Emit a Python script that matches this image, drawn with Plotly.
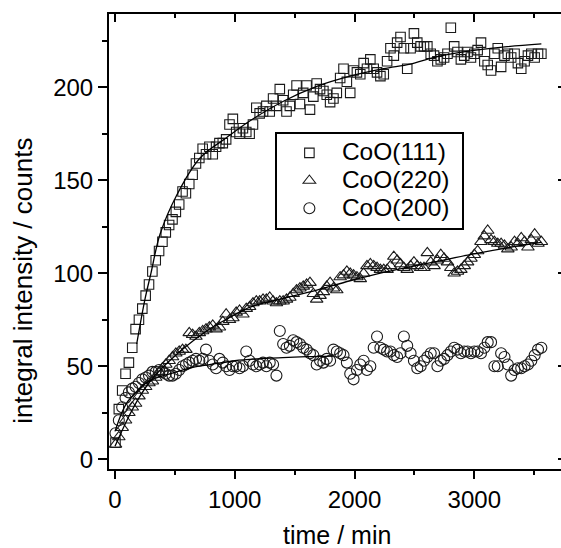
import plotly.graph_objects as go

# measurement times (min)
time_min = [
    4, 32, 60, 88, 116, 144, 172, 200, 228, 256,
    284, 312, 340, 368, 396, 424, 452, 480, 508, 536,
    564, 592, 620, 648, 676, 704, 732, 760, 788, 816,
    844, 872, 900, 928, 956, 984, 1012, 1040, 1068, 1096,
    1124, 1152, 1180, 1208, 1236, 1264, 1292, 1320, 1348, 1376,
    1404, 1432, 1460, 1488, 1516, 1544, 1572, 1600, 1628, 1656,
    1684, 1712, 1740, 1768, 1796, 1824, 1852, 1880, 1908, 1936,
    1964, 1992, 2020, 2048, 2076, 2104, 2132, 2160, 2188, 2216,
    2244, 2272, 2300, 2328, 2356, 2384, 2412, 2440, 2468, 2496,
    2524, 2552, 2580, 2608, 2636, 2664, 2692, 2720, 2748, 2776,
    2804, 2832, 2860, 2888, 2916, 2944, 2972, 3000, 3028, 3056,
    3084, 3112, 3140, 3168, 3196, 3224, 3252, 3280, 3308, 3336,
    3364, 3392, 3420, 3448, 3476, 3504, 3532, 3560,
]

coo111 = [
    9, 27, 37, 46, 52, 60, 70, 75, 81, 88,
    94, 101, 107, 112, 117, 122, 126, 129, 133, 137,
    144, 143, 148, 153, 159, 162, 167, 164, 168, 164,
    168, 170, 170, 172, 180, 183, 176, 175, 178, 176,
    175, 180, 189, 186, 187, 190, 187, 194, 190, 199,
    193, 187, 190, 196, 201, 191, 197, 201, 188, 195,
    202, 199, 198, 196, 192, 194, 197, 205, 210, 203,
    197, 209, 208, 207, 213, 210, 215, 210, 208, 206,
    207, 214, 221, 217, 224, 227, 221, 210, 221, 229,
    224, 222, 222, 222, 218, 217, 214, 215, 216, 218,
    232, 222, 219, 215, 217, 219, 216, 218, 220, 224,
    214, 212, 209, 218, 221, 211, 217, 218, 216, 218,
    213, 210, 214, 217, 218, 216, 218, 218,
]

coo220 = [
    8, 12, 17, 21, 25, 28, 30, 34, 37, 39,
    41, 42, 44, 47, 49, 51, 53, 55, 57, 58,
    59, 59, 68, 67, 66, 68, 69, 70, 71, 72,
    70, 71, 74, 78, 75, 76, 79, 80, 78, 81,
    82, 84, 85, 85, 86, 86, 87, 85, 84, 85,
    85, 86, 87, 89, 91, 92, 93, 94, 95, 89,
    86, 88, 90, 93, 95, 92, 91, 98, 99, 101,
    100, 99, 98, 97, 100, 104, 105, 104, 103, 102,
    102, 102, 104, 109, 107, 105, 103, 102, 104, 106,
    104, 103, 103, 111, 106, 104, 107, 110, 108, 106,
    103, 100, 101, 102, 104, 106, 108, 110, 112, 117,
    120, 123, 118, 117, 116, 116, 115, 113, 114, 117,
    116, 119, 117, 114, 118, 121, 116, 117,
]

coo200 = [
    14, 21, 28, 33, 36, 38, 39, 41, 43, 44,
    45, 47, 47, 48, 47, 46, 45, 45, 46, 48,
    50, 51, 52, 53, 54, 53, 54, 59, 53, 51,
    49, 54, 52, 50, 48, 50, 50, 49, 50, 58,
    53, 51, 50, 51, 52, 50, 52, 51, 45, 69,
    62, 60, 61, 64, 63, 62, 60, 59, 57, 56,
    51, 53, 52, 54, 53, 59, 58, 57, 56, 52,
    46, 43, 48, 51, 53, 48, 50, 60, 66, 60,
    59, 58, 58, 56, 55, 57, 66, 61, 57, 53,
    49, 50, 53, 55, 57, 57, 50, 53, 54, 56,
    58, 60, 59, 57, 58, 58, 57, 58, 58, 57,
    60, 63, 63, 50, 50, 57, 55, 51, 45, 48,
    49, 49, 50, 51, 53, 56, 59, 60,
]

# fitted curves
fit111_t = [181, 250, 300, 376, 515, 710, 933, 1128, 1406, 1685, 1963, 2242, 2465, 2660, 2938, 3216, 3560]
fit111_y = [62, 86, 100, 121, 142, 162, 173, 182, 192.5, 200.5, 206, 210, 212.5, 216, 219.3, 221.5, 223.3]

fit220_t = [0, 100, 200, 300, 400, 500, 600, 700, 800, 950, 1128, 1406, 1685, 1963, 2242, 2465, 2660, 2994, 3300, 3560]
fit220_y = [7, 21, 33, 42.5, 49.5, 55.5, 61, 66, 70.5, 76, 81.8, 86.5, 91, 96, 100.5, 103.5, 106, 110.4, 114, 116.6]

fit200_t = [0, 50, 100, 175, 237, 300, 376, 515, 650, 800, 1000, 1184, 1400, 1600, 1820]
fit200_y = [15, 24, 30.5, 36, 40, 42.5, 44.5, 47, 49.5, 51, 53, 54, 54.7, 55.2, 55.5]

names = ["CoO(111)", "CoO(220)", "CoO(200)"]
x_ticks = [0, 1000, 2000, 3000]
y_ticks = [0, 50, 100, 150, 200]

X_RANGE = [-50.1, 3724]
Y_RANGE = [-5.2, 239.4]
FONT = "Liberation Sans, Arial, sans-serif"
MC = "#1a1a1a"


def leg(name):
    return '<span style="font-size:24.5px">' + name + '&nbsp;</span>'


fig = go.Figure()
fig.add_trace(go.Scatter(x=time_min, y=coo111, mode="markers", name=leg(names[0]),
                         marker=dict(symbol="square-open", size=9.5, color=MC, line=dict(width=1.1, color=MC))))
fig.add_trace(go.Scatter(x=time_min, y=coo220, mode="markers", name=leg(names[1]),
                         marker=dict(symbol="triangle-up-open", size=11, color=MC, line=dict(width=1.1, color=MC))))
fig.add_trace(go.Scatter(x=time_min, y=coo200, mode="markers", name=leg(names[2]),
                         marker=dict(symbol="circle-open", size=11, color=MC, line=dict(width=1.1, color=MC))))
for ft, fy in [(fit111_t, fit111_y), (fit220_t, fit220_y), (fit200_t, fit200_y)]:
    fig.add_trace(go.Scatter(x=ft, y=fy, mode="lines", line=dict(color="black", width=1.3, shape="spline"),
                             showlegend=False, hoverinfo="skip"))
# helper trace so the mirrored top / right axes are drawn
fig.add_trace(go.Scatter(x=[None], y=[None], xaxis="x2", yaxis="y2", showlegend=False, hoverinfo="skip"))

fig.update_layout(
    width=561, height=548,
    margin=dict(l=109, r=0, t=14, b=79),
    paper_bgcolor="white", plot_bgcolor="white",
    font=dict(family=FONT, color="black"),
    xaxis=dict(range=X_RANGE, tickvals=x_ticks, ticks="outside", ticklen=8, tickwidth=1.5,
               tickcolor="black", showline=True, linewidth=2, linecolor="black",
               showgrid=False, zeroline=False, tickfont=dict(size=24, family=FONT),
               minor=dict(tickvals=[500, 1500, 2500, 3500], ticks="outside", ticklen=4, tickwidth=1.5, tickcolor="black")),
    yaxis=dict(range=Y_RANGE, tickvals=y_ticks, ticks="outside", ticklen=9, tickwidth=1.5,
               tickcolor="black", showline=True, linewidth=2, linecolor="black",
               showgrid=False, zeroline=False, tickfont=dict(size=24, family=FONT),
               minor=dict(tickvals=[25, 75, 125, 175, 225], ticks="outside", ticklen=5, tickwidth=1.5, tickcolor="black")),
    xaxis2=dict(range=X_RANGE, overlaying="x", side="top", anchor="y", tickvals=x_ticks,
                ticks="inside", ticklen=8, tickwidth=1.5, tickcolor="black", showticklabels=False,
                showline=True, linewidth=2, linecolor="black", showgrid=False, zeroline=False,
                minor=dict(tickvals=[500, 1500, 2500, 3500], ticks="inside", ticklen=4, tickwidth=1.5, tickcolor="black")),
    yaxis2=dict(range=Y_RANGE, overlaying="y", side="right", anchor="x", tickvals=y_ticks,
                ticks="inside", ticklen=3, tickwidth=1.5, tickcolor="black", showticklabels=False,
                showline=False, showgrid=False, zeroline=False),
    legend=dict(x=0.367, y=0.7407, xanchor="left", yanchor="top", bgcolor="white",
                bordercolor="black", borderwidth=2, font=dict(size=19, family=FONT),
                itemwidth=55),
    annotations=[
        dict(text="time / min", xref="paper", yref="paper", x=0.504, y=-0.145,
             xanchor="center", yanchor="middle", showarrow=False, font=dict(size=25, family=FONT)),
        dict(text="integral intensity / counts", xref="paper", yref="paper", x=-0.19, y=0.414,
             xanchor="center", yanchor="middle", textangle=-90, showarrow=False,
             font=dict(size=26, family=FONT)),
    ],
)

fig.write_html("out.html", config={"displayModeBar": False},
               post_script="document.body.style.margin='0px';")
